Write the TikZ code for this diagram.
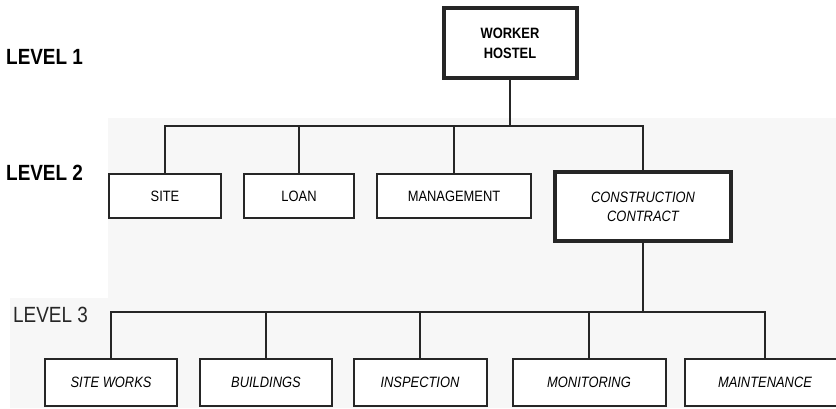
\documentclass[tikz,border=0pt]{standalone}
\usepackage{fontspec}
\setmainfont{Liberation Sans}
\newfontfamily\narrowsans[FakeStretch=0.86]{Liberation Sans}
\begin{document}
\begin{tikzpicture}[x=1pt,y=-1pt,
  box/.style={draw=black!85, line width=2pt, fill=white, inner sep=0pt,
    font=\narrowsans\fontsize{15}{18}\selectfont, align=center},
  boxthick/.style={box, line width=4.5pt},
  lvl3/.style={box, minimum height=47, font=\narrowsans\fontsize{15}{18}\selectfont\itshape},
  lvl2/.style={box, minimum height=44},
  link/.style={draw=black!85, line width=2pt},
  levellabel/.style={anchor=west, inner sep=0pt, font=\narrowsans\fontsize{22}{24}\selectfont\bfseries}]
\useasboundingbox (0,0) rectangle (836,408);
% faint scan tone behind levels 2 and 3
\fill[black!3] (108,118) -- (836,118) -- (836,408) -- (10,408) -- (10,298) -- (108,298) -- cycle;

% level labels
\node[levellabel] (l1) at (6,57) {LEVEL 1};
\node[levellabel] (l2) at (6,173) {LEVEL 2};
\node[levellabel, font=\narrowsans\fontsize{22}{24}\selectfont, text=black!85] (l3) at (13,315) {LEVEL 3};

% level 1
\node[boxthick, line width=4pt, minimum width=133, minimum height=70,
  font=\narrowsans\fontsize{15}{20}\selectfont\bfseries] (hostel) at (510,43) {WORKER\\HOSTEL};

% level 2
\node[lvl2, minimum width=112] (site) at (165,196) {SITE};
\node[lvl2, minimum width=110] (loan) at (299,196) {LOAN};
\node[lvl2, minimum width=154] (mgmt) at (454,196) {MANAGEMENT};
\node[boxthick, minimum width=176, minimum height=69,
  font=\narrowsans\fontsize{15}{19}\selectfont\itshape] (cc) at (643,206.5) {CONSTRUCTION\\CONTRACT};

% level 3
\node[lvl3, minimum width=132] (sw) at (111,382.5) {SITE WORKS};
\node[lvl3, minimum width=132] (bl) at (266,382.5) {BUILDINGS};
\node[lvl3, minimum width=133] (ins) at (420,382.5) {INSPECTION};
\node[lvl3, minimum width=153] (mon) at (589,382.5) {MONITORING};
\node[lvl3, minimum width=160] (mnt) at (765,382.5) {MAINTENANCE};

% bus lines
\coordinate (bus2) at (510,126);
\coordinate (bus3) at (643,312);

% level 1 -> level 2
\draw[link] (hostel.south) -- (bus2);
\draw[link] (site.north) -- (site.north |- bus2) -| (cc.north);
\draw[link] (loan.north) -- (loan.north |- bus2);
\draw[link] (mgmt.north) -- (mgmt.north |- bus2);

% level 2 -> level 3
\draw[link] (cc.south) -- (bus3);
\draw[link] (sw.north) -- (sw.north |- bus3) -| (mnt.north);
\draw[link] (bl.north) -- (bl.north |- bus3);
\draw[link] (ins.north) -- (ins.north |- bus3);
\draw[link] (mon.north) -- (mon.north |- bus3);
\end{tikzpicture}
\end{document}
